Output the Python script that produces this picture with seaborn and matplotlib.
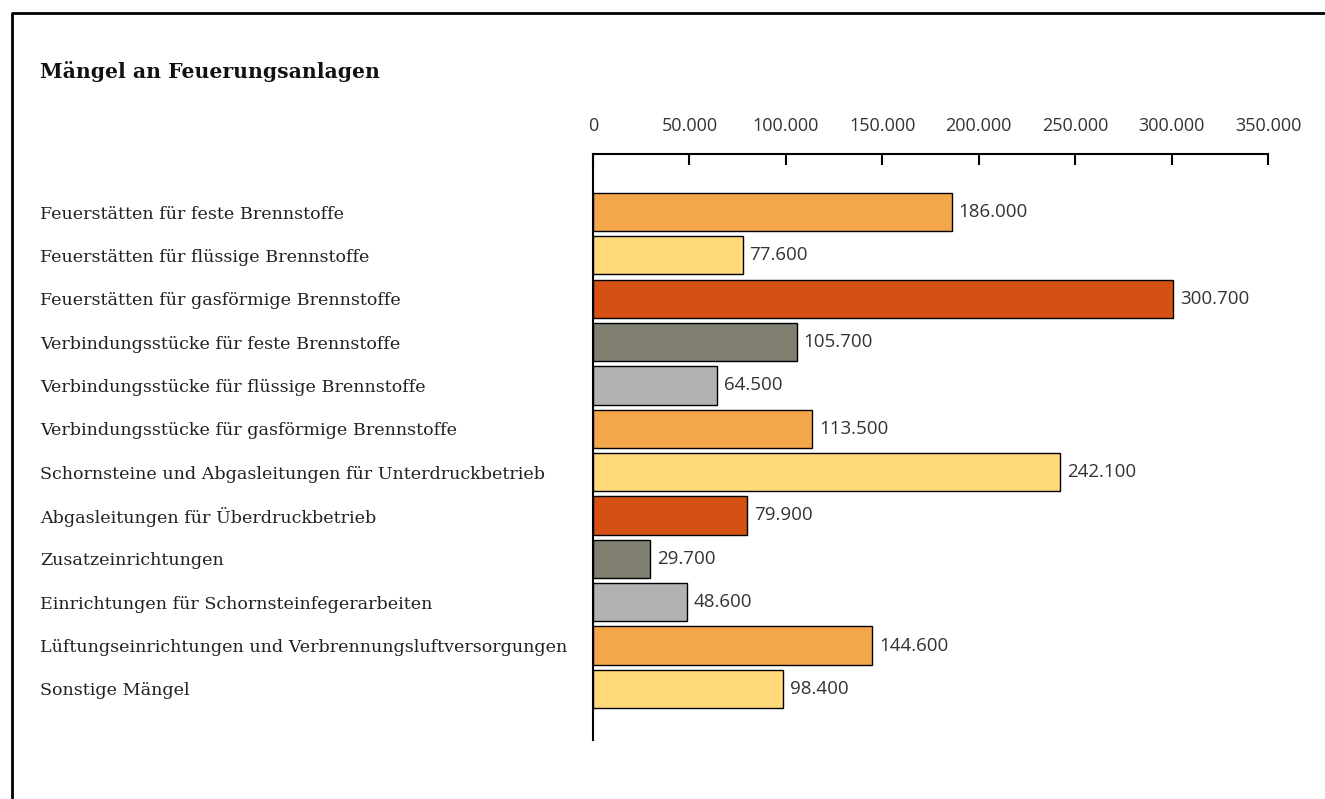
import matplotlib
matplotlib.use("Agg")
import matplotlib.pyplot as plt
import seaborn as sns
import pandas as pd
from matplotlib.lines import Line2D

# Werte aus der Grafik
categories = [
    "Feuerstätten für feste Brennstoffe",
    "Feuerstätten für flüssige Brennstoffe",
    "Feuerstätten für gasförmige Brennstoffe",
    "Verbindungsstücke für feste Brennstoffe",
    "Verbindungsstücke für flüssige Brennstoffe",
    "Verbindungsstücke für gasförmige Brennstoffe",
    "Schornsteine und Abgasleitungen für Unterdruckbetrieb",
    "Abgasleitungen für Überdruckbetrieb",
    "Zusatzeinrichtungen",
    "Einrichtungen für Schornsteinfegerarbeiten",
    "Lüftungseinrichtungen und Verbrennungsluftversorgungen",
    "Sonstige Mängel",
]
values = [186000, 77600, 300700, 105700, 64500, 113500, 242100, 79900, 29700, 48600, 144600, 98400]
bar_colors = ["#F4A74A", "#FFD97A", "#D55013", "#807F70", "#B2B2B2",
              "#F4A74A", "#FFD97A", "#D55013", "#807F70", "#B2B2B2",
              "#F4A74A", "#FFD97A"]
x_ticks = [0, 50000, 100000, 150000, 200000, 250000, 300000, 350000]

df = pd.DataFrame({"kategorie": categories, "anzahl": values})

sns.set_style("white")
plt.rcParams["font.family"] = ["Open Sans", "DejaVu Sans"]

fig = plt.figure(figsize=(13.25, 7.99), dpi=100)
ax = fig.add_axes([593 / 1325, 1 - 740 / 799, 675 / 1325, (740 - 154) / 799])

sns.barplot(data=df, y="kategorie", x="anzahl", hue="kategorie", palette=bar_colors,
            saturation=1, orient="h", width=0.88, edgecolor="black", linewidth=1.0,
            legend=False, ax=ax)

def fmt(v):
    return f"{v:,.0f}".replace(",", ".")

for cont, v in zip(ax.containers, values):
    ax.bar_label(cont, labels=[fmt(v)], padding=5, fontsize=13.5, color="#333333")

ax.set_xlim(0, 350000)
ax.set_ylim(12.18, -1.34)
ax.set_xlabel("")
ax.set_ylabel("")

ax.xaxis.tick_top()
ax.set_xticks(x_ticks)
ax.set_xticklabels([fmt(t) for t in x_ticks])
ax.tick_params(axis="x", direction="in", length=8, width=1.5, color="black",
               pad=14, labelsize=13, labelcolor="#333333")
ax.tick_params(axis="y", length=0, pad=398)
for lab in ax.get_yticklabels():
    lab.set_horizontalalignment("left")
    lab.set_fontfamily("DejaVu Serif")
    lab.set_fontsize(12.6)
    lab.set_color("#222222")

for s in ["right", "bottom"]:
    ax.spines[s].set_visible(False)
for s in ["top", "left"]:
    ax.spines[s].set_linewidth(1.5)
    ax.spines[s].set_color("black")

fig.text(40 / 1325, 1 - 72 / 799, "Mängel an Feuerungsanlagen", fontfamily="DejaVu Serif",
         fontweight="bold", fontsize=14.7, va="center", ha="left", color="#111111")

# Rahmen oben und links
fig.add_artist(Line2D([11.5 / 1325, 11.5 / 1325, 1], [0, 1 - 12.5 / 799, 1 - 12.5 / 799],
                      transform=fig.transFigure, color="black", linewidth=2))

fig.savefig("out.png", dpi=100)
